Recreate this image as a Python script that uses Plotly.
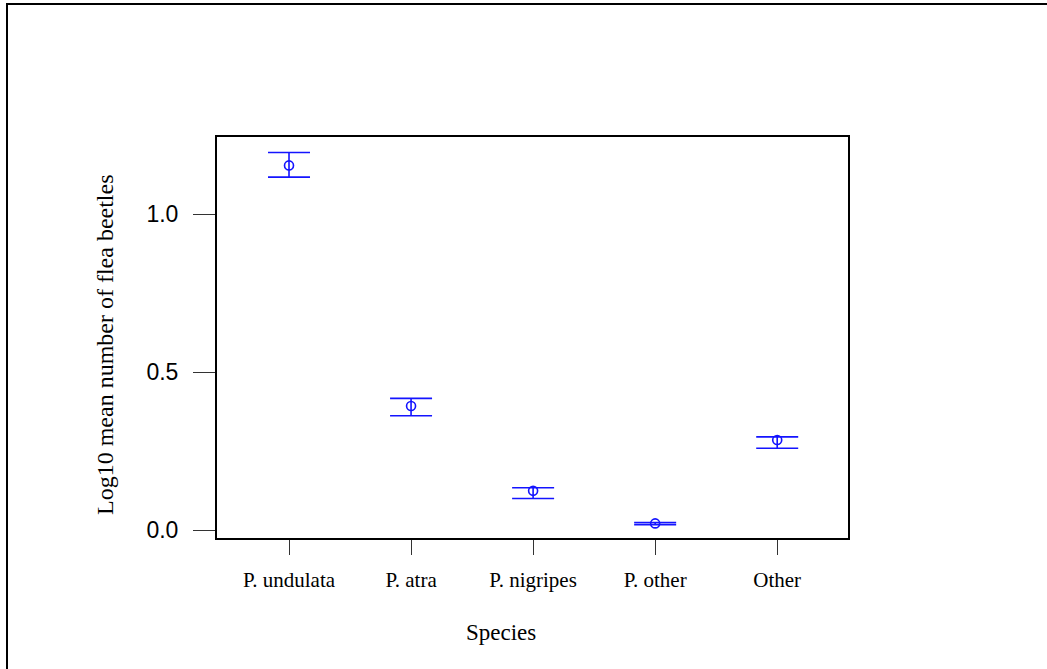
import plotly.graph_objects as go

species = ["P. undulata", "P. atra", "P. nigripes", "P. other", "Other"]
means = [1.155, 0.393, 0.124, 0.021, 0.285]
upper = [1.196, 0.417, 0.134, 0.024, 0.295]
lower = [1.118, 0.362, 0.100, 0.017, 0.259]
y_ticks = [0.0, 0.5, 1.0]
y_tick_labels = ["0.0", "0.5", "1.0"]

x_pos = list(range(1, len(species) + 1))
err_plus = [u - m for u, m in zip(upper, means)]
err_minus = [m - l for m, l in zip(means, lower)]

W, H = 1047, 669
L, R, T, B = 217, 848, 137, 538
pw, ph = R - L, B - T

def px(xp):
    return (xp - L) / pw

def py(yp):
    return (B - yp) / ph

BLUE = "rgb(20,20,255)"

fig = go.Figure()
fig.add_trace(go.Scatter(
    x=x_pos, y=means, mode="markers",
    marker=dict(symbol="circle-open", size=9, color=BLUE, line=dict(width=1.6, color=BLUE)),
    error_y=dict(type="data", symmetric=False, array=err_plus, arrayminus=err_minus,
                 color=BLUE, thickness=1.6, width=21),
    showlegend=False, hoverinfo="skip",
))

fig.update_layout(
    width=W, height=H,
    margin=dict(l=L, r=W - R, t=T, b=H - B, autoexpand=False),
    paper_bgcolor="white", plot_bgcolor="white",
    xaxis=dict(
        range=[0.41, 5.58], tickmode="array", tickvals=x_pos, ticktext=species,
        showgrid=False, zeroline=False, showline=True, linecolor="black", linewidth=2,
        mirror=True, ticks="outside", ticklen=15, tickwidth=1, tickcolor="#333",
        tickfont=dict(family="Liberation Serif", size=21, color="black"),
        ticklabelstandoff=7,
    ),
    yaxis=dict(
        range=[-0.0253, 1.245], tickmode="array", tickvals=y_ticks, ticktext=y_tick_labels,
        showgrid=False, zeroline=False, showline=True, linecolor="black", linewidth=2,
        mirror=True, ticks="outside", ticklen=22, tickwidth=1, tickcolor="#333",
        tickfont=dict(family="Liberation Sans", size=23, color="black"),
        ticklabelstandoff=10,
    ),
    annotations=[
        dict(text="Species", xref="paper", yref="paper", x=px(501), y=py(632),
             xanchor="center", yanchor="middle", showarrow=False,
             font=dict(family="Liberation Serif", size=23, color="black")),
        dict(text="Log10 mean number of flea beetles", xref="paper", yref="paper",
             x=px(105), y=py(345), xanchor="center", yanchor="middle", textangle=-90,
             showarrow=False, font=dict(family="Liberation Serif", size=24, color="black")),
    ],
    shapes=[
        dict(type="line", xref="paper", yref="paper", x0=px(7), x1=px(7), y0=py(4), y1=py(H + 2),
             line=dict(color="black", width=2)),
        dict(type="line", xref="paper", yref="paper", x0=px(6), x1=px(W + 2), y0=py(4), y1=py(4),
             line=dict(color="black", width=2)),
    ],
)

fig.write_html("out.html")
